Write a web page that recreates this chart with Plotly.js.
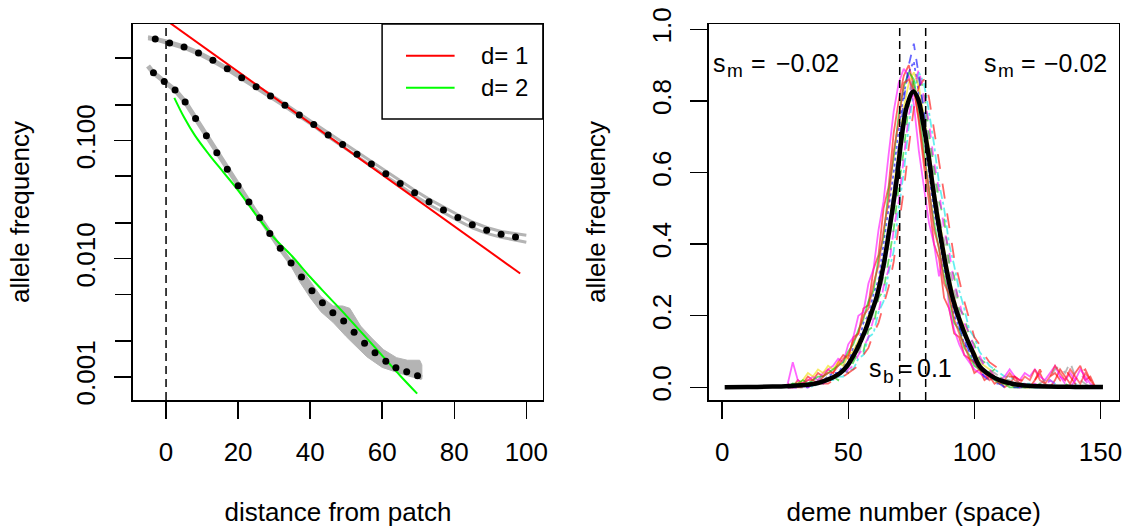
<!DOCTYPE html>
<html>
<head>
<meta charset="utf-8">
<script src="https://cdn.plot.ly/plotly-3.0.1.min.js"></script>
<style>html,body{margin:0;padding:0;background:#fff;}#chart{width:1125px;height:527px;}</style>
</head>
<body>
<div id="chart"></div>
<script>
// ---------------- Left panel data ----------------
const topGrayX = [-5,-3,1,5,9,13,17,21,25,29,33,37,41,45,49,53,57,61,65,69,73,77,81,85,89,93,97,100];
const topGrayUpper = [0.76,0.74,0.69,0.635,0.565,0.49,0.416,0.35,0.294,0.245,0.206,0.17,0.141,0.116,0.0965,0.0798,0.0663,0.0550,0.0457,0.0381,0.0320,0.0273,0.0236,0.0205,0.0184,0.0170,0.0162,0.0158];
const topGrayLower = [0.73,0.715,0.66,0.608,0.54,0.468,0.397,0.333,0.279,0.232,0.194,0.160,0.133,0.108,0.0898,0.0738,0.0609,0.0502,0.0415,0.0344,0.0288,0.0245,0.0211,0.0183,0.0164,0.0152,0.0144,0.0138];
const topDotX = [-3,1,5,9,13,17,21,25,29,33,37,41,45,49,53,57,61,65,69,73,77,81,85,89,93,97];
const topDotY = [0.728,0.673,0.622,0.553,0.480,0.407,0.342,0.287,0.239,0.200,0.165,0.137,0.112,0.0931,0.0767,0.0635,0.0525,0.0435,0.0362,0.0304,0.0259,0.0224,0.0194,0.0174,0.0161,0.0153];

const botGrayX = [-5,-3.5,-0.5,2.5,5.3,8.2,11.2,14.1,17.0,20.0,23.0,26.0,28.8,31.7,34.7,37.6,40.5,43.4,46.3,49.3,52.2,55.1,58.0,61.0,63.8,66.8,69.8,71];
const botGrayY = [0.43,0.377,0.318,0.269,0.213,0.154,0.110,0.0792,0.0572,0.0416,0.0303,0.0223,0.0164,0.01225,0.0092,0.0070,0.00536,0.00424,0.00349,0.00297,0.00238,0.00192,0.00160,0.00135,0.00119,0.00110,0.00102,0.00098];
const bandUpX = [35,37.2,40,43,46.4,49,51,54,57,60.3,64,67,70.4,71];
const bandUpY = [0.0102,0.00851,0.00646,0.00479,0.00398,0.00398,0.00380,0.00269,0.00214,0.00170,0.00145,0.00138,0.00138,0.00126];
const bandLoX = [35,37.2,40,43,46.4,50,53,55.7,60,64.9,68,71];
const bandLoY = [0.00832,0.00631,0.00468,0.00355,0.00288,0.00219,0.00178,0.00148,0.00120,0.00107,0.00100,0.000955];
const botDotX = [-3.5,-0.5,2.5,5.3,8.2,11.2,14.1,17.0,20.0,23.0,26.0,28.8,31.7,34.7,37.6,40.5,43.4,46.3,49.3,52.2,55.1,58.0,61.0,63.8,66.8,69.8];
const botDotY = [0.377,0.318,0.269,0.213,0.154,0.110,0.0792,0.0572,0.0416,0.0303,0.0223,0.0164,0.01225,0.0092,0.0070,0.00536,0.00424,0.00349,0.00297,0.00238,0.00192,0.00160,0.00135,0.00119,0.00110,0.00102];

const d1X = [1, 98.3];
const d1Y = [1.0, 0.0075];
const d2X = [2.3,5,8,12,16,20,25,30,35,40,45,50,55,60,65,69.7];
const d2Y = [0.231,0.158,0.111,0.0759,0.0537,0.0380,0.0235,0.0150,0.0105,0.0070,0.0048,0.0033,0.00224,0.00151,0.00102,0.00072];

const leftXTicks = [0,20,40,60,80,100];
const leftYTicks = [0.001,0.01,0.1];
const leftYTickText = ['0.001','0.010','0.100'];
const leftYMinor = [0.002,0.005,0.02,0.05,0.2,0.5];
const legendLabels = ['d= 1','d= 2'];

// ---------------- Right panel data ----------------
const demeX = [26,28,30,32,34,36,38,40,42,44,46,48,50,52,54,56,58,60,62,64,66,68,70,72,74,76,78,80,82,84,86,88,90,92,94,96,98,100,102,104,106,108,110,112,114,116,118,120,122,124,126,128,130,132,134,136,138,140,142,144,146,148];
const simA = [0.01,0,0.02,0.01,0.03,0.02,0.04,0.03, 0.05,0.04,0.07,0.09,0.08,0.14,0.15,0.22, 0.23,0.33,0.37,0.50,0.56,0.71,0.80,0.87, 0.90,0.84,0.74,0.62,0.52,0.40,0.36,0.25, 0.22,0.15,0.14,0.09,0.08,0.04,0.05,0.02, 0.03,0.01,0.02,0,0.01,0.03,0.01,0, 0,0.02,0.04,0.01,0,0.02,0.05,0.03,0.01,0.04,0.06,0.02,0.03,0];
const simB = [0,0.01,0,0.01,0,0.01,0.02,0.01, 0.02,0.03,0.02,0.05,0.04,0.07,0.10,0.10, 0.16,0.17,0.25,0.27,0.36,0.44,0.56,0.66, 0.79,0.86,0.87,0.83,0.71,0.62,0.52,0.47, 0.35,0.31,0.22,0.20,0.14,0.12,0.08,0.07, 0.04,0.05,0.03,0.02,0.02,0.01,0.01,0, 0,0,0.01,0,0,0,0,0.01,0,0,0,0,0,0];
const simC = [0,0,0.01,0,0.01,0.01,0.02,0.02, 0.03,0.04,0.04,0.06,0.07,0.11,0.12,0.18, 0.20,0.26,0.30,0.40,0.49,0.60,0.72,0.82, 0.88,0.91,0.82,0.70,0.60,0.49,0.42,0.33, 0.28,0.20,0.17,0.12,0.10,0.07,0.05,0.04, 0.03,0.02,0.02,0.01,0.01,0,0,0, 0,0,0,0,0,0,0,0,0,0,0,0,0,0];
const simD = [0,0,0,0,0.01,0,0.01,0.01, 0.02,0.02,0.03,0.03,0.05,0.05,0.08,0.09, 0.14,0.15,0.21,0.24,0.32,0.38,0.50,0.60, 0.73,0.83,0.88,0.85,0.77,0.68,0.57,0.50, 0.40,0.34,0.27,0.22,0.16,0.14,0.10,0.08, 0.06,0.05,0.04,0.03,0.03,0.02,0.01,0.01, 0.01,0,0,0.01,0.02,0.01,0,0,0,0.01,0,0,0,0];
const simE = [0.01,0.07,0.02,0.01,0.02,0.03,0.02,0.04, 0.05,0.06,0.08,0.07,0.12,0.14,0.20,0.21, 0.29,0.33,0.44,0.52,0.65,0.77,0.85,0.89, 0.87,0.79,0.66,0.56,0.46,0.40,0.31,0.38, 0.22,0.16,0.12,0.09,0.07,0.05,0.04,0.03, 0.03,0.02,0.02,0.03,0.05,0.03,0.02,0.04, 0.03,0.05,0.03,0.02,0.04,0.06,0.03,0.02,0.04,0.02,0.05,0.03,0.01,0];
const simF = [0,0,0.01,0.02,0.04,0.03,0.05,0.04, 0.06,0.05,0.07,0.06,0.09,0.10,0.13,0.15, 0.20,0.22,0.29,0.35,0.44,0.55,0.66,0.78, 0.85,0.88,0.84,0.76,0.67,0.56,0.47,0.39, 0.31,0.25,0.20,0.17,0.12,0.10,0.07,0.06, 0.05,0.03,0.02,0.01,0.01,0,0,0, 0,0,0,0,0,0,0,0,0,0,0,0,0,0];
const simG = [0,0,0,0,0.01,0.02,0.03,0.02, 0.03,0.04,0.03,0.05,0.06,0.08,0.09,0.14, 0.16,0.21,0.25,0.31,0.40,0.49,0.61,0.71, 0.82,0.87,0.86,0.78,0.69,0.59,0.48,0.41, 0.33,0.27,0.21,0.16,0.13,0.10,0.08,0.06, 0.05,0.04,0.03,0.02,0.02,0.01,0.01,0, 0,0,0.01,0.02,0.03,0.05,0.06,0.04,0.07,0.03,0.02,0.01,0,0];
const simH = [0,0,0,0,0,0.01,0.01,0.01, 0.01,0.02,0.02,0.03,0.04,0.05,0.06,0.09, 0.11,0.15,0.18,0.23,0.28,0.35,0.45,0.55, 0.67,0.78,0.84,0.86,0.81,0.72,0.64,0.54, 0.45,0.36,0.30,0.24,0.19,0.14,0.12,0.09, 0.07,0.06,0.05,0.04,0.03,0.03,0.02,0.02, 0.01,0.02,0.05,0.02,0.03,0.04,0.02,0.05,0.03,0.01,0.04,0.05,0.02,0.01];
const simI = [0,0.01,0.01,0.02,0.01,0.02,0.03,0.03, 0.04,0.05,0.06,0.07,0.10,0.12,0.16,0.19, 0.24,0.27,0.36,0.42,0.55,0.64,0.76,0.84, 0.88,0.86,0.77,0.66,0.55,0.46,0.38,0.31, 0.25,0.18,0.16,0.11,0.09,0.06,0.05,0.04, 0.03,0.02,0.01,0.01,0,0,0,0, 0,0,0,0,0,0,0,0,0,0,0,0,0,0];
const simJ = [0,0,0,0,0,0.01,0.01,0.02, 0.02,0.03,0.04,0.05,0.06,0.09,0.11,0.14, 0.18,0.22,0.28,0.34,0.45,0.55,0.67,0.80, 0.90,0.96,0.87,0.77,0.65,0.54,0.44,0.36, 0.29,0.22,0.17,0.13,0.10,0.07,0.05,0.03, 0.02,0.01,0.01,0,0,0,0,0, 0,0,0,0,0,0,0,0,0,0,0,0,0,0];
const simK = [0,0,0,0.01,0,0.01,0.02,0.01, 0.02,0.02,0.04,0.03,0.05,0.06,0.09,0.11, 0.14,0.19,0.21,0.28,0.33,0.44,0.52,0.64, 0.76,0.83,0.89,0.81,0.74,0.63,0.55,0.44, 0.38,0.29,0.24,0.18,0.15,0.11,0.09,0.06, 0.05,0.03,0.02,0.02,0.01,0.01,0,0.01, 0,0.01,0,0,0.02,0.01,0.03,0.01,0,0.02,0.04,0.02,0,0];
const simL = [0,0,0.01,0.01,0.02,0.02,0.01,0.03, 0.04,0.04,0.06,0.08,0.09,0.13,0.15,0.20, 0.22,0.29,0.34,0.44,0.52,0.66,0.74,0.85, 0.86,0.83,0.75,0.64,0.56,0.44,0.39,0.29, 0.26,0.19,0.15,0.12,0.08,0.07,0.05,0.04, 0.02,0.03,0.01,0.02,0.04,0.02,0.01,0.03, 0.02,0.05,0.02,0.01,0.03,0.06,0.04,0.02,0.05,0.03,0.01,0.04,0.02,0];

const expX = [1,10,20,25,30,34,38,41.4,44,46.7,49.4,51,53.3,55,57.3,59,61.3,63.9,66.5,69.2,71.2,73.2,75.8,77.8,79.7,81.7,83.7,86.4,89,91.6,95.6,99.6,102.2,106,110,115,120,130,140,151];
const expY = [0,0.0005,0.002,0.003,0.005,0.007,0.012,0.020,0.028,0.039,0.058,0.075,0.104,0.130,0.169,0.205,0.253,0.337,0.449,0.579,0.700,0.784,0.826,0.803,0.737,0.654,0.551,0.430,0.328,0.244,0.160,0.095,0.058,0.035,0.020,0.010,0.005,0.002,0.001,0.0005];

const patchEdges = [70.4, 80.7];
const rightXTicks = [0,50,100,150];
const rightYTicks = [0,0.2,0.4,0.6,0.8,1.0];
const rightYTickText = ['0.0','0.2','0.4','0.6','0.8','1.0'];
// selection labels: [symbol, subscript, value]
const selLabels = [['s','m','\u22120.02'], ['s','m','\u22120.02'], ['s','b','0.1']];

// ---------------- Build ----------------
const FONT = 'Liberation Sans, Arial, Helvetica, sans-serif';
const W = 1125, H = 527;
const GRAY = '#B4B4B4';

const traces = [];
traces.push({x: bandUpX.concat(bandLoX.slice().reverse()), y: bandUpY.concat(bandLoY.slice().reverse()),
  xaxis:'x', yaxis:'y', mode:'lines', fill:'toself', fillcolor:GRAY, line:{color:GRAY, width:1}, hoverinfo:'skip', showlegend:false});
traces.push({x: botGrayX, y: botGrayY, xaxis:'x', yaxis:'y', mode:'lines', line:{color:GRAY, width:5}, showlegend:false});
traces.push({x: topGrayX, y: topGrayUpper, xaxis:'x', yaxis:'y', mode:'lines', line:{color:GRAY, width:3}, showlegend:false});
traces.push({x: topGrayX, y: topGrayLower, xaxis:'x', yaxis:'y', mode:'lines', line:{color:GRAY, width:3}, showlegend:false});
traces.push({x: d1X, y: d1Y, xaxis:'x', yaxis:'y', mode:'lines', line:{color:'#FF0000', width:2}, name:legendLabels[0], showlegend:false});
traces.push({x: d2X, y: d2Y, xaxis:'x', yaxis:'y', mode:'lines', line:{color:'#00FF00', width:2, shape:'spline'}, name:legendLabels[1], showlegend:false});
traces.push({x: topDotX, y: topDotY, xaxis:'x', yaxis:'y', mode:'markers', marker:{color:'black', size:7}, showlegend:false});
traces.push({x: botDotX, y: botDotY, xaxis:'x', yaxis:'y', mode:'markers', marker:{color:'black', size:7}, showlegend:false});
traces.push({x: topDotX, y: topDotY, xaxis:'x', yaxis:'y3', mode:'markers', marker:{opacity:0}, hoverinfo:'skip', showlegend:false});

const sims = [
  [simA,'#FF0000','solid'], [simB,'#00CD00','dash'], [simC,'#0000FF','dot'],
  [simD,'#00E5E5','dashdot'], [simE,'#FF00FF','solid'], [simF,'#F0E000','solid'],
  [simG,'#888888','dash'], [simH,'#FF0000','longdash'], [simI,'#00CD00','solid'],
  [simJ,'#0000FF','dash'], [simK,'#FF00FF','dash'], [simL,'#FF2020','solid']
];
sims.forEach(s => traces.push({x: demeX, y: s[0], xaxis:'x2', yaxis:'y2', mode:'lines',
  line:{color:s[1], width:1.8, dash:s[2]}, opacity:0.6, showlegend:false}));
traces.push({x: expX, y: expY, xaxis:'x2', yaxis:'y2', mode:'lines', line:{color:'black', width:4.5, shape:'spline'}, showlegend:false});

const yDom = [1-400/H, 1-24/H];
const titleFont = {family:FONT, size:26, color:'black'};
const axisCommon = {showgrid:false, zeroline:false, showline:true, mirror:true, linecolor:'black', linewidth:1.5,
  ticks:'outside', ticklen:17, tickwidth:1.5, tickcolor:'black', tickfont:{family:FONT, size:26, color:'black'}};

const px = v => v / W, py = v => 1 - v / H;

// build selection-coefficient labels from parts (main text, lowered subscript, "=", value)
const annotations = [
  {xref:'paper', yref:'paper', x:px(478.6), y:py(55.7), xanchor:'left', yanchor:'middle', text:legendLabels[0], showarrow:false, font:{family:FONT, size:24, color:'black'}},
  {xref:'paper', yref:'paper', x:px(478.6), y:py(87.7), xanchor:'left', yanchor:'middle', text:legendLabels[1], showarrow:false, font:{family:FONT, size:24, color:'black'}}
];
// pixel anchors: [sLeft, subLeft, eqLeft, valueRight, mainMid, subMid]
const selPos = [[711.5, 725.5, 750, 840.5, 63.5, 70], [983.2, 997, 1020, 1108, 63.5, 70], [868.2, 882, 896.8, 953, 368, 376]];
selLabels.forEach((lab, i) => {
  const p = selPos[i];
  const f = (t, x, y, xa, sz) => ({xref:'paper', yref:'paper', x:px(x), y:py(y), xanchor:xa, yanchor:'middle', text:t, showarrow:false,
    borderpad:0, font:{family:FONT, size:sz, color:'black'}});
  annotations.push(f(lab[0], p[0], p[4], 'left', 25));
  annotations.push(f(lab[1], p[1], p[5], 'left', 19));
  annotations.push(f('=', p[2], p[4], 'left', 25));
  annotations.push(f(lab[2], p[3], p[4], 'right', 25));
});

const layout = {
  width: W, height: H, margin:{l:0,r:0,t:0,b:0}, paper_bgcolor:'white', plot_bgcolor:'white',
  showlegend:false, font:{family:FONT, color:'black'},
  xaxis: Object.assign({}, axisCommon, {domain:[132.9/W, 542.9/W], range:[-9.2,104.6], tickvals:leftXTicks, ticklabelstandoff:11,
    title:{text:'distance from patch', font:titleFont, standoff:38}}),
  yaxis: Object.assign({}, axisCommon, {domain:yDom, type:'log', range:[-3.197,-0.011], tickvals:leftYTicks, ticktext:leftYTickText, tickangle:-90, ticklabelstandoff:9,
    title:{text:'allele frequency', font:titleFont, standoff:34}}),
  yaxis3: {overlaying:'y', anchor:'x', side:'left', type:'log', range:[-3.197,-0.011], tickvals:leftYMinor, showticklabels:false,
    ticks:'outside', ticklen:17, tickwidth:1.5, tickcolor:'black', showline:false, showgrid:false, zeroline:false},
  xaxis2: Object.assign({}, axisCommon, {domain:[708.8/W, 1118.6/W], range:[-5.3,157.2], tickvals:rightXTicks, anchor:'y2', ticklabelstandoff:11,
    title:{text:'deme number (space)', font:titleFont, standoff:38}}),
  yaxis2: Object.assign({}, axisCommon, {domain:yDom, range:[-0.0355,1.0148], tickvals:rightYTicks, ticktext:rightYTickText, tickangle:-90, anchor:'x2', ticklabelstandoff:9,
    title:{text:'allele frequency', font:titleFont, standoff:34}}),
  shapes: [
    {type:'line', xref:'x', yref:'y domain', x0:0, x1:0, y0:0, y1:1, line:{color:'black', width:1.5, dash:'8px,5px'}},
    {type:'line', xref:'x2', yref:'y2 domain', x0:patchEdges[0], x1:patchEdges[0], y0:0, y1:1, line:{color:'black', width:1.5, dash:'8px,5px'}},
    {type:'line', xref:'x2', yref:'y2 domain', x0:patchEdges[1], x1:patchEdges[1], y0:0, y1:1, line:{color:'black', width:1.5, dash:'8px,5px'}},
    {type:'rect', xref:'paper', yref:'paper', x0:px(382.1), x1:px(542.9), y0:py(119), y1:py(24), line:{color:'black', width:1.5}, fillcolor:'white', layer:'above'},
    {type:'line', xref:'paper', yref:'paper', x0:px(406), x1:px(454.6), y0:py(55.7), y1:py(55.7), line:{color:'#FF0000', width:2}},
    {type:'line', xref:'paper', yref:'paper', x0:px(406), x1:px(454.6), y0:py(87.7), y1:py(87.7), line:{color:'#00FF00', width:2}}
  ],
  annotations: annotations
};

Plotly.newPlot('chart', traces, layout, {staticPlot:true, displayModeBar:false});
</script>
</body>
</html>
